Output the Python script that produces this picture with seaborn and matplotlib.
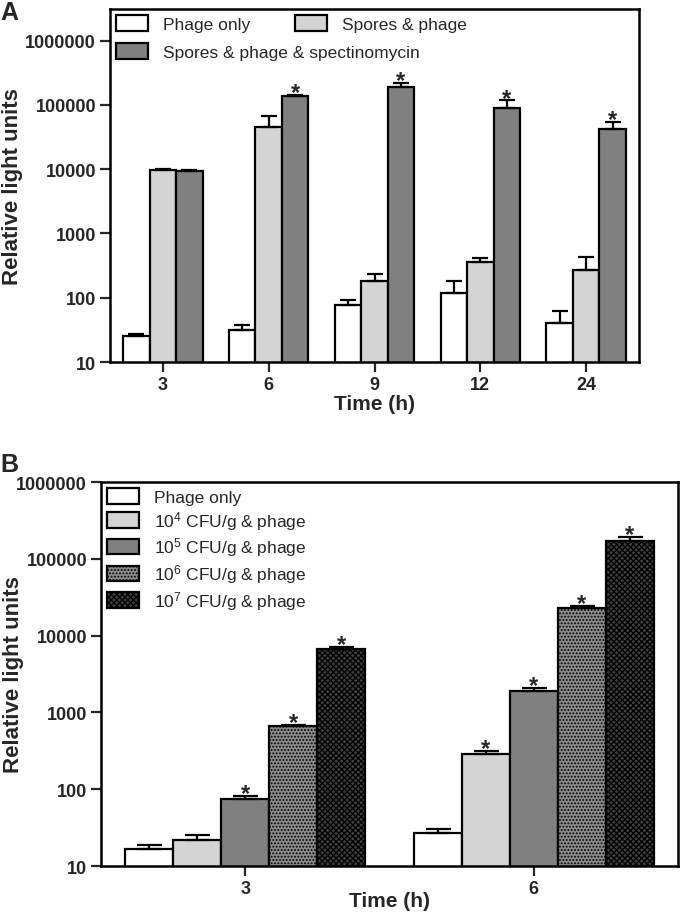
import numpy as np
import pandas as pd
import matplotlib
matplotlib.use('Agg')
import matplotlib.pyplot as plt
import seaborn as sns
from matplotlib.patches import Patch

# ---- panel A values ----
times_a = ['3', '6', '9', '12', '24']
groups_a = ['Phage only', 'Spores & phage', 'Spores & phage & spectinomycin']
phage_only_a = [25, 32, 77, 118, 40]
phage_only_a_err = [2, 6, 15, 62, 22]
spores_a = [9700, 46000, 182, 357, 268]
spores_a_err = [200, 22000, 51, 53, 159]
spores_spec_a = [9300, 135000, 190000, 88000, 41500]
spores_spec_a_err = [300, 6000, 30000, 29000, 12000]
stars_a = [[False] * 5, [False] * 5, [False, True, True, True, True]]
colors_a = ['#ffffff', '#d4d4d4', '#808080']

# ---- panel B values ----
times_b = ['3', '6']
groups_b = ['Phage only', r'10$^{4}$ CFU/g & phage', r'10$^{5}$ CFU/g & phage',
            r'10$^{6}$ CFU/g & phage', r'10$^{7}$ CFU/g & phage']
phage_only_b = [16.6, 27]
phage_only_b_err = [2.1, 3.3]
cfu4_b = [21.8, 288]
cfu4_b_err = [3.5, 28]
cfu5_b = [74.6, 1900]
cfu5_b_err = [7, 190]
cfu6_b = [660, 22900]
cfu6_b_err = [20, 1600]
cfu7_b = [6700, 170000]
cfu7_b_err = [500, 21000]
stars_b = [[False, False], [False, True], [True, True], [True, True], [True, True]]
colors_b = ['#ffffff', '#d4d4d4', '#808080', '#8c8c8c', '#3e3e3e']
hatches_b = [None, None, None, '.....', 'xxxxxx']

yticks = [10, 100, 1000, 10000, 100000, 1000000]
ytick_labels = ['10', '100', '1000', '10000', '100000', '1000000']

sns.set_style('ticks')
plt.rcParams['font.family'] = ['Liberation Sans', 'DejaVu Sans']
plt.rcParams['mathtext.fontset'] = 'custom'
plt.rcParams['mathtext.rm'] = 'Liberation Sans'
plt.rcParams['mathtext.it'] = 'Liberation Sans:italic'
plt.rcParams['mathtext.bf'] = 'Liberation Sans:bold'
plt.rcParams['hatch.linewidth'] = 0.9
plt.rcParams['hatch.color'] = 'black'


def long_df(times, groups, series):
    rows = []
    for g, vals in zip(groups, series):
        for t, v in zip(times, vals):
            rows.append({'time': t, 'group': g, 'rlu': v})
    return pd.DataFrame(rows)


def draw_panel(ax, times, groups, series, errs, stars, colors, width, capsize, hatches=None):
    df = long_df(times, groups, series)
    sns.barplot(data=df, x='time', y='rlu', hue='group', order=times, hue_order=groups,
                palette=colors, width=width, saturation=1, edgecolor='black',
                linewidth=1.6, errorbar=None, legend=False, ax=ax)
    ax.set_yscale('log')
    bars = list(ax.containers)
    for i, cont in enumerate(bars):
        rects = [r for r in cont if r is not None]
        xs = [r.get_x() + r.get_width() / 2 for r in rects]
        tops = [r.get_height() for r in rects]
        if hatches is not None and hatches[i]:
            for r in rects:
                r.set_hatch(hatches[i])
        ax.errorbar(xs, tops, yerr=[np.zeros(len(tops)), errs[i]], fmt='none',
                    ecolor='black', elinewidth=1.6, capsize=capsize, capthick=1.6, zorder=3)
        for x, t, e, s in zip(xs, tops, errs[i], stars[i]):
            if s:
                ax.annotate('*', (x, t + e), xytext=(0, -3), textcoords='offset points',
                            ha='center', va='baseline', fontsize=17, fontweight='bold')
    ax.set_yticks(yticks, ytick_labels, fontweight='bold', fontsize=13)
    ax.minorticks_off()
    ax.set_xticks(range(len(times)), times, fontweight='bold', fontsize=13)
    ax.tick_params(direction='out', length=7, width=1.6, pad=3)
    for sp in ax.spines.values():
        sp.set_linewidth(1.8)
        sp.set_color('black')
    ax.set_xlim(-0.5, len(times) - 0.5)
    ax.set_xlabel('Time (h)', fontsize=15, fontweight='bold')
    ax.set_ylabel('Relative light units', fontsize=16, fontweight='bold')


fig = plt.figure(figsize=(6.8, 9.2), dpi=100)
ax_a = fig.add_axes([110 / 680, 1 - 363 / 920, 529 / 680, 353 / 920])
ax_b = fig.add_axes([101 / 680, 1 - 867 / 920, 577 / 680, 384 / 920])

# panel A
draw_panel(ax_a, times_a, groups_a, [phage_only_a, spores_a, spores_spec_a],
           [phage_only_a_err, spores_a_err, spores_spec_a_err], stars_a, colors_a,
           width=0.75, capsize=5.5)
ax_a.set_ylim(10, 3.1e6)
ax_a.yaxis.set_label_coords(-0.165, 0.5)
ax_a.xaxis.set_label_coords(0.5, -0.09)

hd_a = [Patch(facecolor=c, edgecolor='black', linewidth=1.6) for c in colors_a]
leg1 = ax_a.legend(hd_a[:2], groups_a[:2], ncol=2, loc='upper left',
                   bbox_to_anchor=(0.0, 1.0), frameon=False, fontsize=12.5,
                   handlelength=1.85, handleheight=1.0, handletextpad=0.85,
                   columnspacing=2.6, borderaxespad=0.1, borderpad=0.25)
ax_a.add_artist(leg1)
ax_a.legend(hd_a[2:], groups_a[2:], loc='upper left', bbox_to_anchor=(0.0, 0.92),
            frameon=False, fontsize=12.5, handlelength=1.85, handleheight=1.0,
            handletextpad=0.85, borderaxespad=0.1, borderpad=0.25)

# panel B
draw_panel(ax_b, times_b, groups_b, [phage_only_b, cfu4_b, cfu5_b, cfu6_b, cfu7_b],
           [phage_only_b_err, cfu4_b_err, cfu5_b_err, cfu6_b_err, cfu7_b_err],
           stars_b, colors_b, width=5 / 6, capsize=9, hatches=hatches_b)
ax_b.set_ylim(10, 1e6)
ax_b.yaxis.set_label_coords(-0.134, 0.5)
ax_b.xaxis.set_label_coords(0.5, -0.066)

hd_b = [Patch(facecolor=c, edgecolor='black', linewidth=1.6, hatch=h)
        for c, h in zip(colors_b, hatches_b)]
ax_b.legend(hd_b, groups_b, loc='upper left', bbox_to_anchor=(0.0, 1.0),
            frameon=False, fontsize=12.5, handlelength=1.85, handleheight=1.0,
            handletextpad=0.85, labelspacing=0.22, borderaxespad=0.1, borderpad=0.25)

fig.text(0.0, 0.999, 'A', fontsize=18, fontweight='bold', va='top', ha='left')
fig.text(0.0, 1 - 453 / 920, 'B', fontsize=18, fontweight='bold', va='top', ha='left')

fig.savefig('out.png', dpi=100)
